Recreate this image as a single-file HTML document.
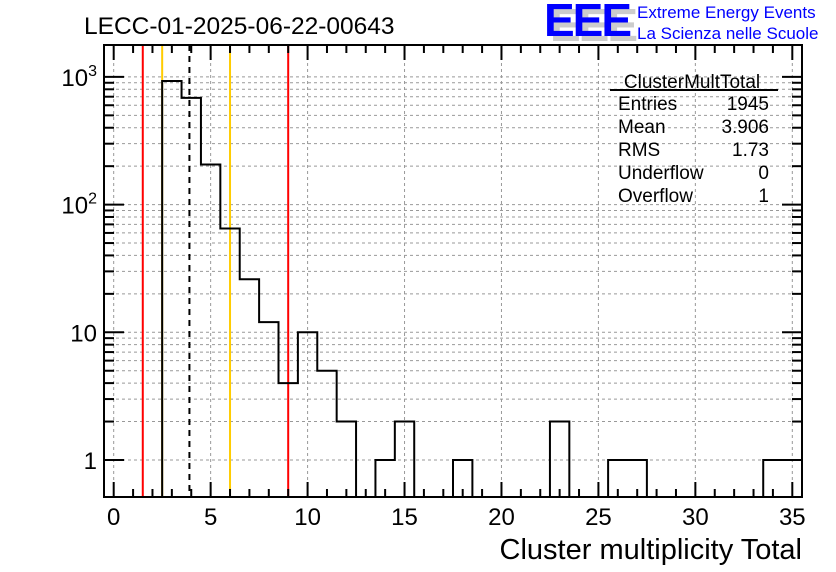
<!DOCTYPE html>
<html><head><meta charset="utf-8">
<style>body{margin:0;background:#fff}svg{display:block;font-family:"Liberation Sans",sans-serif}</style>
</head><body>
<svg id="c" width="836" height="572"></svg>
<script>
const binCenters=[3,4,5,6,7,8,9,10,11,12,14,15,18,23,26,27,34,35];
const counts=[930,685,206,65,26,12,4,10,5,2,1,2,1,2,1,1,1,1];
const xTicks=[0,5,10,15,20,25,30,35];
const yMajor=[1,10,100,1000];
const yMajorLabels=["1","10","10<tspan dy='-10' font-size='16'>2</tspan>","10<tspan dy='-10' font-size='16'>3</tspan>"];
const vLines=[{v:1.5,c:"#f00"},{v:2.5,c:"#fc0"},{v:3.906,c:"#000",d:"6,5"},{v:6.0,c:"#fc0"},{v:9.0,c:"#f00"}];

const L=104,R=802,T=45,B=497,xmin=-0.5,xmax=35.5;
const lmin=Math.log10(0.513),lmax=3.25;
const X=v=>L+(v-xmin)/(xmax-xmin)*(R-L);
const Y=v=>B-(Math.log10(v)-lmin)/(lmax-lmin)*(B-T);
const s=document.getElementById('c');const NS="http://www.w3.org/2000/svg";
function el(t,a,p){const e=document.createElementNS(NS,t);for(const k in a)e.setAttribute(k,a[k]);(p||s).appendChild(e);return e;}
const g=el('g',{});


xTicks.forEach(v=>el('line',{x1:X(v),x2:X(v),y1:T,y2:B,stroke:"#999","stroke-dasharray":"3,3","stroke-width":1},g));
for(let d=0;d<=3;d++)for(let m=1;m<=9;m++){const v=m*Math.pow(10,d);if(v<0.52||v>1780)continue;
el('line',{x1:L,x2:R,y1:Y(v),y2:Y(v),stroke:"#999","stroke-dasharray":"3,3","stroke-width":1},g);}
let x0=X(binCenters[0]-0.5);let d=`M${x0},${B}`;
binCenters.forEach((c,i)=>{const xl=X(c-0.5),xr=X(c+0.5),y=Y(counts[i]);
 if(i>0&&binCenters[i-1]!==c-1){d+=` L${xl},${B}`;}
 d+=` L${xl},${y} L${xr},${y}`;
 if(i===binCenters.length-1||binCenters[i+1]!==c+1)d+=` L${xr},${B}`;});
vLines.forEach((l,i)=>{const ln=el('line',{x1:X(l.v),x2:X(l.v),y1:T,y2:B,stroke:l.c,"stroke-width":2,"stroke-dasharray":l.d||"none"});

});
const h=el('path',{d:d,fill:"none",stroke:"#000","stroke-width":2});


const f=el('rect',{x:L,y:T,width:R-L,height:B-T,fill:"none",stroke:"#000","stroke-width":2});


for(let v=0;v<=35;v++){const big=v%5===0,len=big?15:8;
 el('line',{x1:X(v),x2:X(v),y1:B,y2:B-len,stroke:"#000","stroke-width":2});
 el('line',{x1:X(v),x2:X(v),y1:T,y2:T+len,stroke:"#000","stroke-width":2});}
xTicks.forEach(v=>{const t=el('text',{x:X(v),y:525,"font-size":24,"text-anchor":"middle"});t.textContent=v;

});
for(let dd=0;dd<=3;dd++)for(let m=1;m<=9;m++){const v=m*Math.pow(10,dd);if(v<0.52||v>1780)continue;const len=m===1?20:10;
 el('line',{x1:L,x2:L+len,y1:Y(v),y2:Y(v),stroke:"#000","stroke-width":2});
 el('line',{x1:R,x2:R-len,y1:Y(v),y2:Y(v),stroke:"#000","stroke-width":2});}
yMajor.forEach((v,i)=>{const t=el('text',{x:97,y:Y(v)+9,"font-size":24,"text-anchor":"end"});t.innerHTML=yMajorLabels[i];

});
</script>
<svg width="836" height="572" style="position:absolute;left:0;top:0">
<text x="84" y="34" font-size="24.5">LECC-01-2025-06-22-00643</text>
<text x="802" y="559" font-size="29" text-anchor="end">Cluster multiplicity Total</text>
<g>
<text x="550" y="41" font-size="46" font-weight="bold" fill="#ccc" letter-spacing="-2">EEE</text>
<text x="544" y="36" font-size="46" font-weight="bold" fill="#00f" letter-spacing="-2">EEE</text>
<text x="637" y="18" font-size="17" fill="#00f">Extreme Energy Events</text>
<text x="637" y="39" font-size="17" fill="#00f">La Scienza nelle Scuole</text>
</g>
<g font-size="19">
<text x="692" y="88" text-anchor="middle">ClusterMultTotal</text>
<line x1="610" x2="778" y1="90" y2="90" stroke="#000" stroke-width="2"/>
<text x="618" y="110">Entries</text><text x="769" y="110" text-anchor="end">1945</text>
<text x="618" y="133">Mean</text><text x="769" y="133" text-anchor="end">3.906</text>
<text x="618" y="156">RMS</text><text x="769" y="156" text-anchor="end">1.73</text>
<text x="618" y="179">Underflow</text><text x="769" y="179" text-anchor="end">0</text>
<text x="618" y="202">Overflow</text><text x="769" y="202" text-anchor="end">1</text>
</g>
</svg>
</body></html>
